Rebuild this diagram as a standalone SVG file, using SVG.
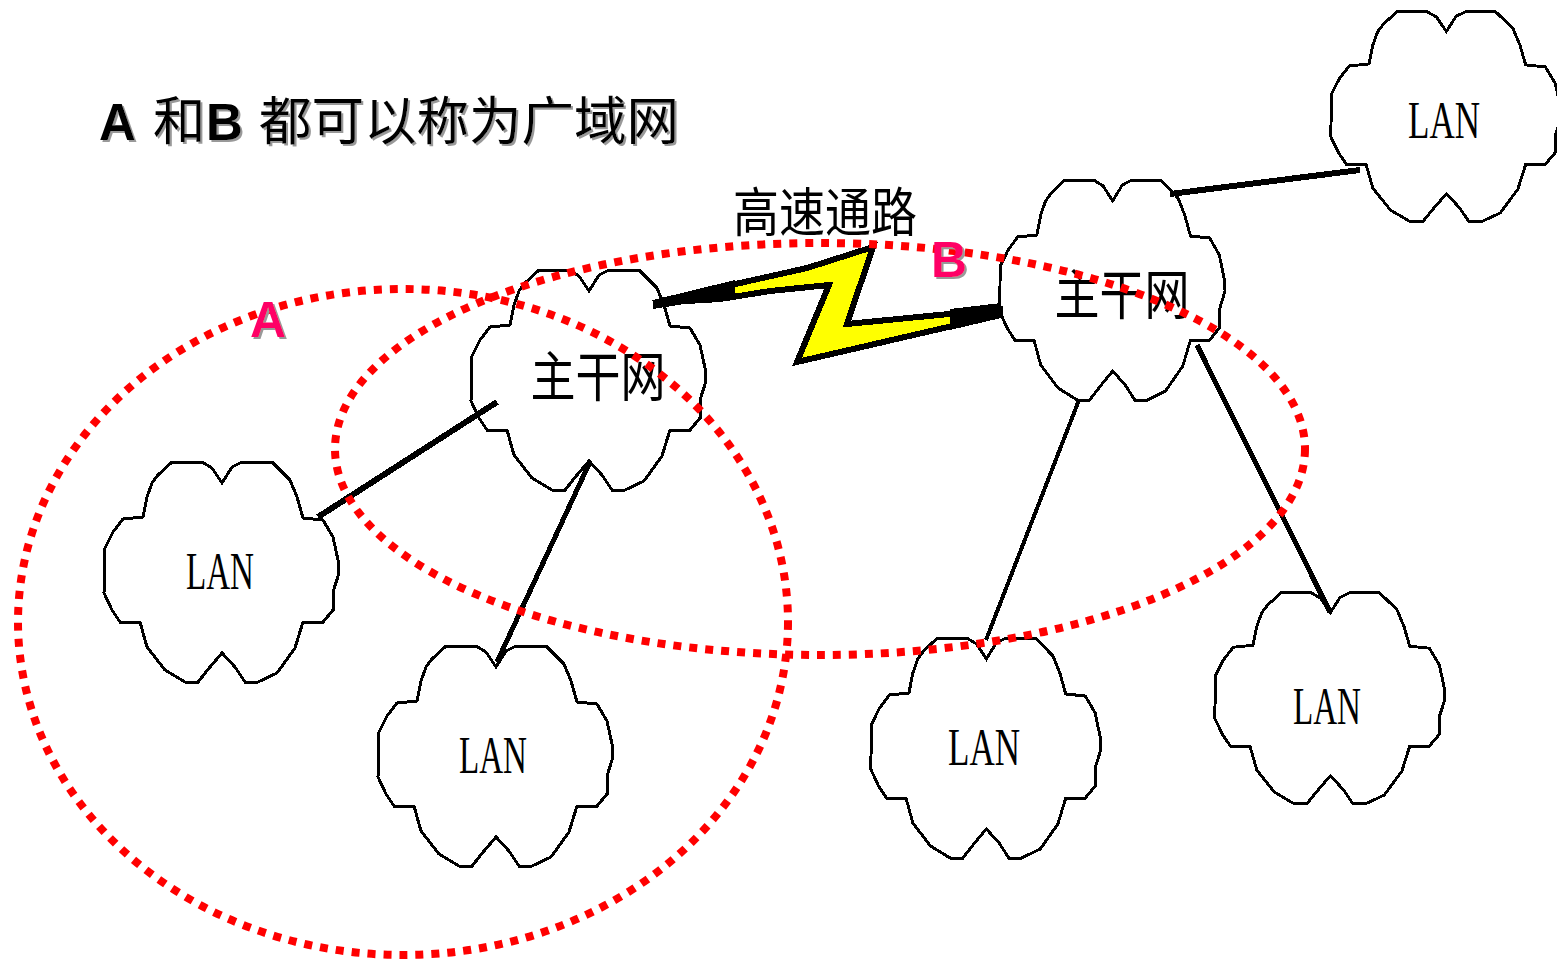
<svg xmlns="http://www.w3.org/2000/svg" width="1557" height="960" viewBox="0 0 1557 960">
<style>
.cloud{fill:#fff;stroke:#000;stroke-width:3;shape-rendering:crispEdges;vector-effect:non-scaling-stroke}
.lan{font-family:"Liberation Serif",serif;font-size:52px;fill:#000;text-anchor:middle}
.cjk{font-family:"Noto Sans CJK SC",sans-serif;fill:#000}
.zg{font-size:45px;text-anchor:middle}
.title{font-size:52.5px;filter:url(#sh)}
.latin{font-family:"Liberation Sans",sans-serif;font-weight:700;font-size:51px}
.mark{font-family:"Liberation Sans",sans-serif;font-weight:700;font-size:50px;fill:#ff0066;filter:url(#sh)}
.link{stroke:#000;fill:none;shape-rendering:crispEdges}
.region{fill:none;stroke:#ff0000;stroke-width:8;stroke-dasharray:8 8}
</style>
<defs>
<filter id="sh" x="-5%" y="-10%" width="110%" height="125%"><feDropShadow dx="2" dy="2" stdDeviation="0.6" flood-color="#999"/></filter>
<path id="c" d="M132 33L122 18L112 12L82 12L68 25L62 33L57 47L53 67L33 69L23 82L15 98L14 143L22 160L30 172L50 172L57 197L75 220L95 232L108 232L120 217L132 203L145 217L155 232L168 232L187 223L205 198L213 172L233 172L243 160L243 142L249 123L248 110L243 87L233 70L213 68L207 47L200 30L182 12L152 12L142 17Z"/>
</defs>
<g id="lan1"><use href="#c" class="cloud" transform="translate(90 450)"/><text class="lan" x="220" y="589" textLength="68" lengthAdjust="spacingAndGlyphs">LAN</text></g>
<g id="lan2"><use href="#c" class="cloud" transform="translate(364 634)"/><text class="lan" x="493" y="773" textLength="68" lengthAdjust="spacingAndGlyphs">LAN</text></g>
<g id="lan3"><use href="#c" class="cloud" transform="translate(857 626) scale(.98 1)"/><text class="lan" x="984" y="765" textLength="72" lengthAdjust="spacingAndGlyphs">LAN</text></g>
<g id="lan4"><use href="#c" class="cloud" transform="translate(1201 581) scale(.98 .96)"/><text class="lan" x="1327" y="724" textLength="68" lengthAdjust="spacingAndGlyphs">LAN</text></g>
<g id="lan5"><use href="#c" class="cloud" transform="translate(1317 0) scale(.98 .955)"/><text class="lan" x="1444" y="138" textLength="72" lengthAdjust="spacingAndGlyphs">LAN</text></g>
<g id="backbone1"><use href="#c" class="cloud" transform="translate(457 258)"/><text class="cjk zg" transform="translate(598 397) scale(1 1.2)">主干网</text></g>
<g id="backbone2"><use href="#c" class="cloud" transform="translate(986 168) scale(.96 1)"/><text class="cjk zg" transform="translate(1122 315) scale(1 1.2)">主干网</text></g>
<g id="connectors">
<line class="link" stroke-width="6" x1="318" y1="517" x2="497" y2="402"/>
<line class="link" stroke-width="5" x1="589" y1="464" x2="497" y2="662"/>
<line class="link" stroke-width="6" x1="1170" y1="194" x2="1360" y2="170"/>
<line class="link" stroke-width="4" x1="1079" y1="400" x2="986" y2="640"/>
<line class="link" stroke-width="5" x1="1197" y1="345" x2="1330" y2="612"/>
</g>
<g id="link"><polygon fill="#ffff00" stroke="#000" stroke-width="6" shape-rendering="crispEdges" stroke-linejoin="miter" points="653,303 670,299 740,283 807,268 873,247 847,324 1000,309 1000,315 797,362 829,285 770,291 720,299"/>
<polygon fill="#000" shape-rendering="crispEdges" points="653,300 735,280 735,296 653,309"/>
<polygon fill="#000" shape-rendering="crispEdges" points="950,309 1001,303 1001,318 950,330"/>
<text class="cjk" font-size="46" transform="translate(733 232) scale(1 1.15)">高速通路</text></g>
<text id="title" class="cjk title" x="99" y="140"><tspan class="latin" fill="#000">A</tspan> <tspan x="153">和</tspan><tspan class="latin" x="206">B</tspan> <tspan x="259">都可以称为广域网</tspan></text>
<g id="regions">
<ellipse class="region" cx="403" cy="622" rx="385" ry="333"/>
<ellipse class="region" cx="820" cy="449" rx="485" ry="206"/>
</g>
<text id="labelA" class="mark" x="250" y="337">A</text>
<text id="labelB" class="mark" x="931" y="277">B</text>
</svg>
